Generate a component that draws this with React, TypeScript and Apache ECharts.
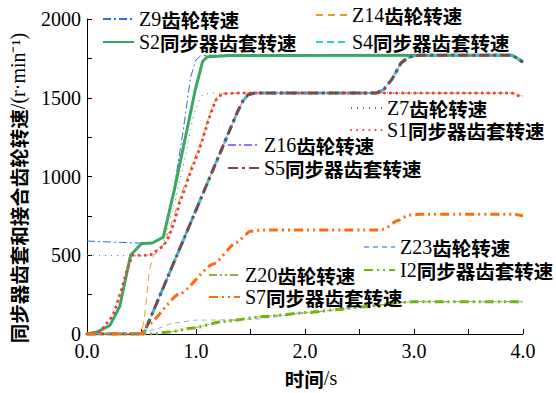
import React, { useEffect, useRef } from "react";
import * as echarts from "echarts";

type Pt = [number, number];

const xTicks = [0, 1, 2, 3, 4];
const yTicks = [0, 500, 1000, 1500, 2000];

const seriesNames = [
  "Z9齿轮转速",
  "Z14齿轮转速",
  "S2同步器齿套转速",
  "S4同步器齿套转速",
  "Z7齿轮转速",
  "S1同步器齿套转速",
  "Z16齿轮转速",
  "S5同步器齿套转速",
  "Z23齿轮转速",
  "I2同步器齿套转速",
  "Z20齿轮转速",
  "S7同步器齿套转速",
];

const z9: Pt[] = [[0, 590], [0.25, 583], [0.5, 577], [0.6, 580], [0.7, 620], [0.8, 930], [0.88, 1280], [0.95, 1630], [1.0, 1740], [1.04, 1765], [1.1, 1770], [2.0, 1772], [3.0, 1772], [3.9, 1772], [4.0, 1730]];
const z14: Pt[] = [[0, 0], [0.5, 0], [0.53, 120], [0.57, 400], [0.61, 500], [0.68, 535], [0.75, 650], [0.85, 860], [0.95, 1050], [1.05, 1230], [1.15, 1450], [1.21, 1520], [1.26, 1530], [3.9, 1530], [4.0, 1510]];
const s2: Pt[] = [[0, 0], [0.1, 15], [0.21, 55], [0.3, 175], [0.4, 500], [0.5, 575], [0.6, 578], [0.7, 615], [0.8, 910], [0.9, 1240], [0.99, 1540], [1.06, 1730], [1.1, 1758], [1.3, 1768], [3.9, 1770], [4.0, 1730]];
const s4: Pt[] = [[0, 0], [0.52, 0], [0.95, 705], [1.38, 1410], [1.43, 1480], [1.48, 1520], [1.54, 1530], [2.65, 1530], [2.72, 1550], [2.8, 1620], [2.88, 1720], [2.95, 1758], [3.05, 1770], [3.9, 1770], [4.0, 1725]];
const z7: Pt[] = [[0, 500], [0.3, 498], [0.5, 495], [0.6, 505], [0.7, 570], [0.8, 820], [0.9, 1120], [0.98, 1400], [1.05, 1512], [1.12, 1530], [3.9, 1530], [4.0, 1505]];
const s1: Pt[] = [[0, 0], [0.12, 15], [0.24, 120], [0.32, 290], [0.37, 415], [0.42, 500], [0.58, 500], [0.7, 560], [0.74, 600], [0.78, 670], [0.81, 730], [0.85, 835], [0.89, 905], [0.94, 1010], [1.04, 1190], [1.12, 1370], [1.18, 1484], [1.24, 1525], [1.4, 1530], [3.9, 1530], [4.0, 1500]];
const z16: Pt[] = [[0, 0], [0.52, 0], [0.95, 705], [1.38, 1410], [1.43, 1480], [1.48, 1520], [1.54, 1530], [2.65, 1530], [2.72, 1550], [2.8, 1620], [2.88, 1720], [2.95, 1758], [3.05, 1770], [3.9, 1770], [4.0, 1725]];
const s5: Pt[] = [[0, 0], [0.52, 0], [0.95, 705], [1.38, 1410], [1.43, 1480], [1.48, 1520], [1.54, 1530], [2.65, 1530], [2.72, 1550], [2.8, 1620], [2.88, 1720], [2.95, 1758], [3.05, 1770], [3.9, 1770], [4.0, 1725]];
const z23: Pt[] = [[0, 0], [0.5, 0], [0.6, 25], [0.8, 70], [1.0, 88], [1.5, 92], [2.0, 132], [2.5, 170], [2.9, 200], [3.0, 205], [4.0, 205]];
const i2: Pt[] = [[0, 0], [0.6, 0], [0.75, 12], [0.97, 38], [1.25, 80], [1.65, 113], [2.05, 138], [2.3, 155], [2.57, 175], [2.87, 200], [3.0, 205], [4.0, 205]];
const z20: Pt[] = [[0, 0], [0.6, 0], [0.75, 12], [0.97, 38], [1.25, 80], [1.65, 113], [2.05, 138], [2.3, 155], [2.57, 175], [2.87, 200], [3.0, 205], [4.0, 205]];
const s7: Pt[] = [[0, 0], [0.5, 0], [0.55, 55], [0.85, 255], [1.16, 445], [1.37, 582], [1.5, 652], [1.6, 660], [2.65, 660], [2.72, 665], [2.85, 720], [2.95, 755], [3.06, 760], [3.9, 760], [4.0, 750]];

const seriesData: Pt[][] = [z9, z14, s2, s4, z7, s1, z16, s5, z23, i2, z20, s7];

const styles: { color: string; width: number; type: any; cap?: string; smooth: number | boolean }[] = [
  { color: "#2b6fdc", width: 1, type: [8, 3, 2, 3], smooth: false },
  { color: "#e0a020", width: 1, type: [7, 5], smooth: false },
  { color: "#3aa860", width: 3, type: "solid", smooth: false },
  { color: "#1fd0d8", width: 3, type: [7, 4], smooth: false },
  { color: "#707070", width: 1, type: [1, 5], smooth: false },
  { color: "#f03c3c", width: 3, type: [0.1, 6], cap: "round", smooth: false },
  { color: "#a070f0", width: 1, type: [8, 3, 2, 3], smooth: false },
  { color: "#7a4a4a", width: 3, type: [10, 4, 3, 4], smooth: false },
  { color: "#8ab4e8", width: 1, type: [5, 4], smooth: 0.2 },
  { color: "#66b800", width: 3, type: [9, 4, 2, 4, 2, 4], smooth: 0.2 },
  { color: "#a8a040", width: 1, type: [8, 3, 2, 3, 2, 3], smooth: 0.2 },
  { color: "#ff6a10", width: 3, type: [9, 4, 2, 4, 2, 4], smooth: 0.2 },
];

const legendPos: [number, number][] = [
  [102, 9], [315, 5], [102, 32], [315, 32],
  [350, 98], [350, 120], [227, 135], [227, 158],
  [363, 237], [363, 260], [208, 265], [208, 287],
];

const richText = {
  a: { fontFamily: "Liberation Serif", fontSize: 20, color: "#000", lineHeight: 20 },
  b: { fontFamily: "Noto Sans CJK SC", fontWeight: "bold", fontSize: 19.5, color: "#000", lineHeight: 20 },
};

function richLabel(name: string): string {
  const m = name.match(/^([A-Za-z0-9]+)(.*)$/);
  if (!m) return `{b|${name}}`;
  return `{a|${m[1]}}{b|${m[2]}}`;
}

export default function App() {
  const ref = useRef<HTMLDivElement>(null);
  useEffect(() => {
    if (!ref.current) return;
    const chart = echarts.init(ref.current, undefined, { renderer: "svg" });
    const option: any = {
      animation: false,
      backgroundColor: "#fff",
      grid: { left: 87, right: 33, top: 19, bottom: 57, containLabel: false },
      xAxis: {
        type: "value",
        min: 0,
        max: 4,
        interval: 0.5,
        name: "{b|时间}{a|/s}",
        nameLocation: "middle",
        nameGap: 34,
        nameTextStyle: { rich: richText, padding: [0, 0, 0, 12] },
        axisLine: { show: true, onZero: false, lineStyle: { color: "#000", width: 1 } },
        axisTick: { show: true, inside: true, length: 5, lineStyle: { color: "#000" } },
        axisLabel: {
          margin: 7,
          fontFamily: "Liberation Serif",
          fontSize: 20,
          color: "#000",
          formatter: (v: number) => (xTicks.includes(v) ? v.toFixed(1) : ""),
        },
        splitLine: { show: false },
      },
      yAxis: {
        type: "value",
        min: 0,
        max: 2000,
        interval: 250,
        axisLine: { show: true, lineStyle: { color: "#000", width: 1 } },
        axisTick: { show: true, inside: true, length: 5, lineStyle: { color: "#000" } },
        axisLabel: {
          margin: 6,
          fontFamily: "Liberation Serif",
          fontSize: 20,
          color: "#000",
          formatter: (v: number) => (yTicks.includes(v) ? String(v) : ""),
        },
        splitLine: { show: false },
      },
      graphic: [
        {
          type: "text",
          x: 18,
          y: 188,
          rotation: Math.PI / 2,
          style: {
            text: "{b|同步器齿套和接合齿轮转速}{a|/(r·min⁻¹)}",
            rich: richText,
            align: "center",
            verticalAlign: "middle",
          },
        },
      ],
      legend: seriesNames.map((n, i) => ({
        data: [n],
        left: legendPos[i][0],
        top: legendPos[i][1],
        padding: 0,
        itemWidth: 31,
        itemHeight: 12,
        itemGap: 5,
        selectedMode: false,
        itemStyle: { color: "transparent", borderColor: "transparent", borderWidth: 0, opacity: 0 },
        formatter: (name: string) => richLabel(name),
        textStyle: { rich: richText, padding: [0, 0, 0, 0] },
      })),
      series: seriesNames.map((n, i) => ({
        name: n,
        type: "line",
        data: seriesData[i],
        showSymbol: false,
        symbol: "none",
        smooth: styles[i].smooth,
        smoothMonotone: "x",
        lineStyle: {
          color: styles[i].color,
          width: styles[i].width,
          type: styles[i].type,
          cap: styles[i].cap || "butt",
        },
        itemStyle: { color: styles[i].color },
        z: 2 + i * 0.01,
      })),
    };
    chart.setOption(option);
    return () => chart.dispose();
  }, []);
  return <div ref={ref} style={{ position: "fixed", left: 0, top: 0, width: 556, height: 393 }} />;
}
